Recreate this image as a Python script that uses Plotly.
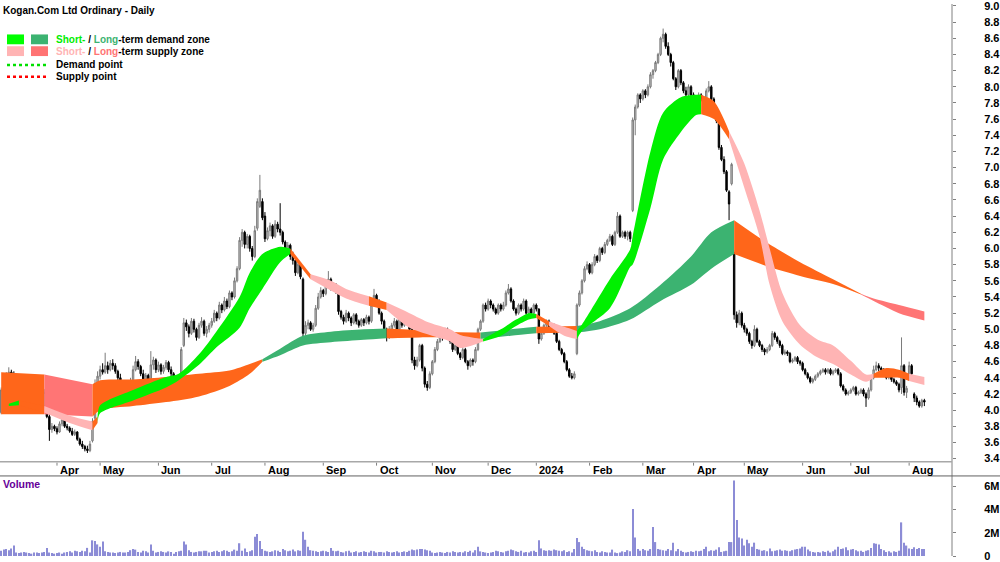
import plotly.graph_objects as go

# ---------------- data ----------------
# trading-day index 0 = 2 Mar 2023 ... 364 = 9 Aug 2024
opens = [
 3.97,4.25,4.37,4.42,4.47,4.44,4.40,4.30,4.22,4.27, 4.13,4.25,4.10,4.05,4.18,4.08,4.02,4.05,4.15,3.92,
 3.76,3.80,3.77,3.73,3.83,3.88,3.80,3.78,3.74,3.70, 3.73,3.64,3.58,3.55,3.52,3.50,3.62,3.90,4.33,4.42,
 4.50,4.47,4.55,4.50,4.58,4.55,4.48,4.40,4.32,4.27, 4.22,4.26,4.36,4.50,4.60,4.54,4.45,4.38,4.43,4.36,
 4.56,4.62,4.50,4.56,4.48,4.53,4.59,4.50,4.45,4.38, 4.30,4.38,4.80,5.08,5.03,4.95,5.10,5.00,4.90,5.05,
 5.10,4.95,5.00,5.05,5.10,5.20,5.14,5.30,5.24,5.35, 5.28,5.45,5.40,5.60,5.75,6.10,6.20,6.05,6.15,6.00,
 5.90,6.25,6.52,6.58,6.40,6.12,6.22,6.28,6.15,6.30, 6.24,6.20,6.08,5.95,6.04,5.90,5.85,5.70,5.80,5.62,
 4.95,5.05,5.08,5.00,5.05,5.26,5.40,5.48,5.44,5.55, 5.62,5.52,5.55,5.50,5.22,5.15,5.10,5.20,5.14,5.08,
 5.18,5.10,5.05,5.12,5.08,5.15,5.10,5.30,5.42,5.35, 5.20,5.10,5.00,4.90,5.00,5.05,5.10,5.00,5.15,5.05,
 5.10,5.16,5.00,4.62,4.55,4.62,4.80,4.52,4.32,4.28, 4.45,4.60,4.75,4.85,4.95,4.90,5.00,4.92,4.85,4.75,
 4.80,4.70,4.65,4.75,4.60,4.55,4.62,4.60,4.75,5.00, 5.10,5.30,5.25,5.35,5.30,5.25,5.20,5.30,5.25,5.30,
 5.45,5.50,5.35,5.25,5.20,5.30,5.25,5.35,5.20,5.25, 5.20,5.30,5.25,4.88,4.95,5.05,5.10,5.00,5.05,4.95,
 4.85,4.75,4.70,4.60,4.50,4.42,4.40,4.70,5.30,5.45, 5.60,5.75,5.80,5.70,5.80,5.90,5.85,6.00,5.95,6.05,
 6.10,6.15,6.05,6.20,6.40,6.15,6.20,6.15,6.20,6.47, 7.59,7.75,7.90,7.85,7.95,7.90,8.00,8.15,8.20,8.30,
 8.40,8.60,8.65,8.50,8.40,8.30,8.10,8.00,8.20,8.05, 7.95,7.90,8.00,7.90,7.85,7.80,7.90,7.85,7.75,7.95,
 8.00,7.85,7.70,7.55,7.25,7.10,6.95,6.70,6.80,5.95, 5.18,5.08,5.20,5.05,5.00,4.95,4.85,4.80,5.00,4.85,
 4.80,4.75,4.72,4.75,4.80,4.95,4.90,4.85,4.80,4.70, 4.72,4.70,4.60,4.62,4.65,4.60,4.58,4.50,4.45,4.40,
 4.35,4.38,4.42,4.45,4.48,4.50,4.47,4.50,4.45,4.48, 4.50,4.45,4.30,4.25,4.20,4.22,4.25,4.28,4.20,4.22,
 4.25,4.20,4.15,4.25,4.40,4.50,4.55,4.52,4.50,4.45, 4.40,4.42,4.38,4.35,4.32,4.28,4.55,4.22,4.38,4.55,
 4.20,4.15,4.10,4.05,4.12]
highs = [
 4.28,4.40,4.47,4.53,4.50,4.48,4.42,4.34,4.30,4.30, 4.28,4.28,4.14,4.22,4.20,4.12,4.16,4.26,4.18,3.95,
 3.84,3.82,3.80,3.86,3.92,3.90,3.83,3.80,3.78,3.76, 3.74,3.66,3.62,3.57,3.56,3.62,3.90,4.38,4.48,4.55,
 4.58,4.71,4.60,4.62,4.63,4.58,4.50,4.45,4.36,4.32, 4.30,4.40,4.55,4.67,4.63,4.56,4.50,4.46,4.45,4.73,
 4.66,4.64,4.60,4.58,4.56,4.62,4.61,4.54,4.47,4.42, 4.40,4.78,5.14,5.12,5.06,5.14,5.13,5.02,5.08,5.15,
 5.12,5.04,5.08,5.14,5.24,5.22,5.34,5.32,5.40,5.38, 5.48,5.47,5.64,5.78,6.14,6.24,6.22,6.18,6.17,6.03,
 6.28,6.62,6.91,6.62,6.45,6.26,6.32,6.30,6.35,6.33, 6.56,6.22,6.10,6.08,6.06,5.96,5.88,5.84,5.82,5.64,
 5.10,5.12,5.10,5.08,5.30,5.45,5.52,5.50,5.58,5.72, 5.64,5.58,5.57,5.52,5.24,5.18,5.24,5.22,5.16,5.20,
 5.20,5.12,5.14,5.14,5.18,5.17,5.32,5.50,5.44,5.37, 5.22,5.12,5.02,5.04,5.08,5.14,5.12,5.18,5.22,5.14,
 5.20,5.18,5.02,4.66,4.66,4.82,4.82,4.54,4.36,4.48, 4.62,4.78,4.88,4.97,4.98,5.02,5.02,4.94,4.87,4.84,
 4.82,4.72,4.78,4.77,4.62,4.64,4.64,4.78,5.02,5.12, 5.32,5.33,5.38,5.37,5.32,5.27,5.32,5.32,5.34,5.48,
 5.56,5.52,5.37,5.27,5.32,5.32,5.38,5.37,5.28,5.27, 5.32,5.32,5.26,4.98,5.07,5.12,5.12,5.08,5.07,4.97,
 4.87,4.77,4.72,4.62,4.52,4.46,4.48,5.32,5.48,5.62, 5.78,5.84,5.82,5.83,5.93,5.92,6.02,6.02,6.08,6.12,
 6.18,6.17,6.22,6.45,6.42,6.22,6.22,6.22,6.22,7.62, 7.78,7.92,7.92,7.97,7.97,8.03,8.18,8.22,8.32,8.42,
 8.62,8.72,8.67,8.55,8.42,8.32,8.12,8.22,8.22,8.07, 8.00,8.03,8.02,7.93,7.87,7.93,7.92,7.87,7.98,8.07,
 8.02,7.87,7.72,7.58,7.28,7.14,6.97,6.72,7.06,5.96, 5.22,5.24,5.22,5.08,5.02,4.97,4.87,5.05,5.02,4.87,
 4.82,4.77,4.78,4.82,4.98,4.97,4.92,4.87,4.82,4.75, 4.74,4.72,4.64,4.67,4.67,4.62,4.60,4.52,4.47,4.42,
 4.40,4.44,4.47,4.50,4.52,4.52,4.52,4.52,4.50,4.52, 4.52,4.47,4.32,4.27,4.24,4.27,4.30,4.30,4.24,4.27,
 4.27,4.22,4.28,4.42,4.55,4.60,4.58,4.54,4.52,4.47, 4.45,4.44,4.40,4.37,4.34,4.90,4.57,4.30,4.60,4.57,
 4.22,4.18,4.12,4.14,4.14]
lows = [
 3.95,4.22,4.33,4.38,4.40,4.36,4.28,4.18,4.15,4.10, 4.10,4.08,4.02,4.03,4.06,3.98,4.00,4.03,3.90,3.62,
 3.72,3.74,3.70,3.72,3.80,3.78,3.75,3.72,3.68,3.68, 3.62,3.56,3.52,3.49,3.47,3.48,3.60,3.88,4.30,4.38,
 4.44,4.45,4.45,4.48,4.50,4.45,4.36,4.30,4.22,4.18, 4.16,4.24,4.34,4.48,4.50,4.42,4.34,4.35,4.32,4.34,
 4.50,4.46,4.47,4.44,4.45,4.50,4.47,4.40,4.34,4.25, 4.27,4.36,4.78,4.98,4.90,4.93,4.96,4.86,4.88,5.02,
 4.92,4.90,4.96,5.02,5.08,5.10,5.12,5.20,5.22,5.25, 5.26,5.36,5.38,5.58,5.73,6.02,6.00,6.00,5.96,5.85,
 5.88,6.22,6.50,6.35,6.08,6.10,6.15,6.12,6.13,6.20, 6.16,6.05,5.90,5.92,5.86,5.80,5.66,5.68,5.62,4.87,
 4.92,5.00,4.98,4.97,5.03,5.24,5.38,5.40,5.42,5.52, 5.48,5.48,5.44,5.18,5.12,5.06,5.08,5.10,5.04,5.06,
 5.06,5.02,5.03,5.04,5.06,5.06,5.08,5.28,5.30,5.18, 5.06,4.96,4.85,4.88,4.96,5.02,4.96,4.98,5.02,5.03,
 5.08,4.98,4.58,4.50,4.53,4.60,4.48,4.28,4.24,4.26, 4.43,4.58,4.73,4.83,4.86,4.88,4.88,4.82,4.72,4.73,
 4.68,4.62,4.63,4.58,4.50,4.53,4.55,4.58,4.73,4.98, 5.08,5.22,5.23,5.26,5.22,5.18,5.18,5.22,5.23,5.28,
 5.43,5.33,5.23,5.17,5.18,5.22,5.23,5.18,5.18,5.16, 5.18,5.22,4.82,4.86,4.93,5.03,4.98,4.98,4.93,4.83,
 4.73,4.68,4.58,4.48,4.40,4.38,4.38,4.68,5.28,5.43, 5.58,5.73,5.68,5.68,5.78,5.82,5.83,5.92,5.93,6.03,
 6.08,6.03,6.03,6.18,6.13,6.13,6.12,6.10,6.08,6.45, 7.40,7.73,7.80,7.83,7.86,7.88,7.98,8.10,8.18,8.28,
 8.38,8.55,8.47,8.38,8.25,8.08,7.96,7.98,8.02,7.92, 7.86,7.88,7.88,7.80,7.72,7.78,7.82,7.66,7.73,7.93,
 7.83,7.66,7.55,7.22,7.08,6.92,6.70,6.35,6.78,5.12, 5.02,5.05,5.02,4.96,4.92,4.82,4.76,4.78,4.83,4.78,
 4.72,4.68,4.70,4.73,4.78,4.87,4.82,4.77,4.68,4.68, 4.67,4.58,4.58,4.60,4.57,4.55,4.48,4.43,4.38,4.33,
 4.33,4.36,4.40,4.43,4.46,4.44,4.45,4.43,4.43,4.46, 4.43,4.28,4.23,4.18,4.18,4.20,4.23,4.18,4.18,4.20,
 4.17,4.04,4.13,4.23,4.38,4.48,4.48,4.46,4.42,4.38, 4.38,4.35,4.33,4.30,4.22,4.20,4.18,4.15,4.36,4.42,
 4.10,4.06,4.03,4.03,4.05]
closes = [
 4.25,4.37,4.42,4.47,4.44,4.40,4.30,4.22,4.27,4.13, 4.25,4.10,4.05,4.18,4.08,4.02,4.12,4.22,3.92,3.76,
 3.80,3.77,3.73,3.83,3.88,3.80,3.78,3.74,3.70,3.73, 3.64,3.58,3.55,3.52,3.50,3.58,3.86,4.33,4.42,4.50,
 4.47,4.55,4.50,4.58,4.55,4.48,4.40,4.32,4.27,4.22, 4.26,4.36,4.50,4.60,4.54,4.45,4.38,4.43,4.36,4.56,
 4.62,4.50,4.56,4.48,4.53,4.59,4.50,4.45,4.38,4.30, 4.36,4.75,5.08,5.03,4.95,5.10,5.00,4.90,5.05,5.10,
 4.95,5.00,5.05,5.10,5.20,5.14,5.30,5.24,5.35,5.28, 5.45,5.40,5.60,5.75,6.10,6.20,6.05,6.15,6.00,5.90,
 6.22,6.58,6.72,6.38,6.12,6.22,6.28,6.15,6.30,6.24, 6.20,6.08,5.95,6.04,5.90,5.85,5.70,5.80,5.65,4.95,
 5.05,5.08,5.00,5.05,5.26,5.40,5.48,5.44,5.55,5.62, 5.52,5.55,5.47,5.22,5.15,5.10,5.20,5.14,5.08,5.18,
 5.10,5.05,5.12,5.08,5.15,5.10,5.30,5.42,5.35,5.20, 5.10,5.00,4.90,5.00,5.05,5.10,5.00,5.15,5.05,5.10,
 5.16,5.00,4.62,4.55,4.62,4.80,4.52,4.32,4.28,4.45, 4.60,4.75,4.85,4.95,4.90,5.00,4.92,4.85,4.75,4.80,
 4.70,4.65,4.75,4.60,4.55,4.62,4.60,4.75,5.00,5.10, 5.30,5.25,5.35,5.30,5.25,5.20,5.30,5.25,5.30,5.45,
 5.50,5.35,5.25,5.20,5.30,5.25,5.35,5.20,5.25,5.20, 5.30,5.25,4.88,4.95,5.05,5.10,5.00,5.05,4.95,4.85,
 4.75,4.70,4.60,4.50,4.42,4.40,4.45,5.30,5.45,5.60, 5.75,5.80,5.70,5.80,5.90,5.85,6.00,5.95,6.05,6.10,
 6.15,6.05,6.20,6.40,6.15,6.20,6.15,6.20,6.12,7.59, 7.75,7.90,7.85,7.95,7.90,8.00,8.15,8.20,8.30,8.40,
 8.60,8.65,8.50,8.40,8.30,8.10,8.00,8.20,8.05,7.95, 7.90,8.00,7.90,7.85,7.80,7.90,7.85,7.75,7.95,8.00,
 7.85,7.70,7.58,7.25,7.10,6.95,6.72,6.55,7.04,5.18, 5.08,5.20,5.05,5.00,4.95,4.85,4.80,5.00,4.85,4.80,
 4.75,4.72,4.75,4.80,4.95,4.90,4.85,4.80,4.70,4.72, 4.70,4.60,4.62,4.65,4.60,4.58,4.50,4.45,4.40,4.35,
 4.38,4.42,4.45,4.48,4.50,4.47,4.50,4.45,4.48,4.50, 4.45,4.30,4.25,4.20,4.22,4.25,4.28,4.20,4.22,4.25,
 4.20,4.15,4.25,4.40,4.50,4.55,4.52,4.50,4.45,4.40, 4.42,4.38,4.35,4.32,4.25,4.55,4.22,4.27,4.55,4.45,
 4.15,4.10,4.05,4.12,4.10]
volume_m = [
 0.45,0.55,0.6,0.5,0.65,0.9,0.3,0.25,0.3,0.35, 0.3,0.25,0.2,0.3,0.3,0.25,0.3,0.35,0.7,0.3,
 0.25,0.2,0.25,0.3,0.2,0.3,0.35,0.4,0.3,0.45, 0.4,0.35,0.45,0.4,0.7,0.3,1.35,1.3,1.0,0.8,
 1.25,0.4,0.35,0.3,0.3,0.25,0.3,0.35,0.3,0.3, 0.35,0.5,0.6,0.55,0.35,0.3,0.45,0.4,0.3,1.0,
 0.45,0.3,0.35,0.4,0.35,0.3,0.4,0.35,0.2,0.35, 0.4,0.45,1.25,1.0,0.5,0.35,0.3,0.35,0.4,0.4,
 0.45,0.45,0.3,0.35,0.4,0.45,0.35,0.4,0.5,0.45, 0.35,0.4,0.55,0.45,1.1,0.45,0.65,0.35,0.4,0.5,
 1.65,1.9,1.3,0.6,0.45,0.4,0.35,0.4,0.5,0.45, 0.35,0.6,0.5,0.4,0.45,0.55,0.4,0.5,0.45,2.1,
 1.4,0.8,0.5,0.45,0.4,0.35,0.4,0.45,0.4,0.35, 0.7,0.45,0.4,0.45,0.35,0.3,0.4,0.45,0.3,0.35,
 0.4,0.3,0.35,0.4,0.35,0.3,0.45,0.4,0.3,0.35, 0.35,0.3,0.4,0.35,0.3,0.35,0.4,0.3,0.35,0.4,
 0.35,0.45,0.55,0.5,0.55,0.6,0.6,0.55,0.5,0.45, 0.3,0.25,0.3,0.35,0.3,0.25,0.35,0.3,0.4,0.35,
 0.3,0.35,0.3,0.4,0.35,0.45,0.3,0.5,0.8,0.4, 0.35,0.3,0.25,0.3,0.35,0.45,0.4,0.35,0.3,0.4,
 0.45,0.55,0.5,0.4,0.35,0.45,0.3,0.35,0.3,0.4, 0.45,0.35,1.35,0.65,0.5,0.45,0.5,0.45,0.55,0.5,
 0.45,0.4,0.5,0.35,0.4,0.3,0.6,1.55,1.2,0.8, 0.6,0.5,0.45,0.4,0.5,0.35,0.3,0.4,0.35,0.3,
 0.3,0.55,0.3,0.25,0.3,0.4,0.35,0.5,0.4,4.05, 1.6,0.6,0.45,0.6,0.5,0.45,0.6,2.5,1.2,0.6,
 0.55,0.5,0.45,0.6,0.5,1.15,0.4,0.6,0.45,0.35, 0.3,0.35,0.4,0.35,0.45,0.4,0.45,0.6,0.8,0.4,
 0.5,0.45,0.55,0.75,0.35,0.4,0.45,1.2,1.2,6.5, 3.1,1.6,1.5,0.9,1.4,1.1,0.8,1.15,0.6,0.55,
 0.45,0.5,0.4,0.65,0.4,0.45,0.5,0.55,0.45,0.5, 0.45,0.4,0.5,0.55,0.6,0.65,0.8,0.8,0.55,0.4,
 0.35,0.3,0.35,0.3,0.4,0.35,0.45,0.3,0.4,0.55, 0.8,0.6,0.65,0.75,0.5,0.55,0.6,0.5,0.4,0.45,
 0.35,0.45,0.5,0.7,1.1,1.05,1.0,0.6,0.5,0.35, 0.4,0.3,0.4,0.35,0.45,2.9,1.15,0.9,0.65,0.6,
 0.75,0.6,0.7,0.6,0.6]

# long-term zone (two slow averages) read at a few trading-day indices
lt_idx = [0,17,36,39,52,65,78,90,98,103,110,119,130,143,152,165,175,189,201,211,
          227,236,248,260,272,280,289,302,315,328,339,344,354,364]
lt_hi = [4.47,4.44,4.32,4.37,4.38,4.41,4.45,4.49,4.57,4.63,4.76,4.92,4.97,5.00,5.01,4.99,4.97,4.96,5.00,5.03,
         5.04,5.10,5.26,5.55,5.90,6.20,6.35,6.07,5.83,5.62,5.44,5.38,5.30,5.22]
lt_lo = [3.95,3.95,3.92,4.00,4.05,4.10,4.17,4.30,4.45,4.60,4.68,4.80,4.84,4.87,4.89,4.90,4.90,4.88,4.92,4.95,
         4.96,5.00,5.12,5.35,5.55,5.75,5.93,5.78,5.66,5.56,5.43,5.35,5.20,5.11]
lt_state = "O S O O O O O O O G G G G G O O O G G O G G G G G G O O O O S S S S".split()

# short-term zone (two fast averages)
st_idx = [3,7,17,27,36,38,39,52,65,70,78,85,94,98,103,110,114,122,130,136,
          145,152,161,169,177,181,190,197,203,208,211,216,222,227,229,240,248,249,256,261,
          268,274,276,281,287,293,299,303,308,315,322,328,335,341,344,349,354,358,364]
st_hi = [4.08,4.12,4.05,3.93,3.86,3.92,4.06,4.25,4.41,4.45,4.69,4.98,5.40,5.70,5.93,6.02,6.00,5.68,5.60,5.50,
         5.41,5.33,5.20,5.08,5.00,4.93,4.88,5.00,5.12,5.20,5.19,5.10,5.03,4.98,5.06,5.62,5.99,6.15,7.20,7.68,
         7.87,7.90,7.90,7.82,7.45,7.05,6.47,6.00,5.45,5.05,4.87,4.80,4.61,4.44,4.45,4.52,4.50,4.45,4.41]
st_lo = [4.05,4.06,3.97,3.84,3.75,3.84,3.96,4.12,4.28,4.37,4.56,4.78,5.02,5.26,5.50,5.83,5.93,5.62,5.48,5.38,
         5.29,5.24,5.02,4.93,4.85,4.77,4.85,4.92,5.04,5.12,5.14,5.04,4.92,4.88,4.98,5.26,5.77,5.80,6.50,7.10,
         7.44,7.65,7.66,7.60,7.35,6.75,6.15,5.55,5.10,4.81,4.65,4.57,4.44,4.35,4.40,4.40,4.40,4.36,4.31]
st_state = ("G O P P O G G G G G G G G G G G O P P P O P P P P P G G G G "
            "O P P G G G G G G G G G O O P P P P P P P P P P O O O P P").split()

month_idx = [22,39,62,83,104,127,148,170,192,211,232,253,273,293,316,335,358]
month_lbl = ["Apr","May","Jun","Jul","Aug","Sep","Oct","Nov","Dec","2024",
             "Feb","Mar","Apr","May","Jun","Jul","Aug"]
price_ticks = [round(3.4 + 0.2 * k, 1) for k in range(29)]
vol_ticks = [0, 2, 4, 6]
vol_labels = ["0", "2M", "4M", "6M"]

# ---------------- figure ----------------
W, H = 1000, 562
def px_y(p):
    return 1 - p / H

FONT = "Liberation Sans, Arial, sans-serif"
C_SHORT = {"G": "#00f000", "P": "#ffb4b4", "O": "#ff661a"}
C_LONG = {"G": "#3cb371", "S": "#ff7575", "O": "#ff661a"}

fig = go.Figure()

def add_band(idx, hi, lo, st, cmap):
    n = len(idx)
    a = 0
    for k in range(1, n):
        if k == n - 1 or st[k] != st[a]:
            c = cmap[st[a]]
            fig.add_trace(go.Scatter(x=idx[a:k + 1], y=lo[a:k + 1], mode="lines",
                                     line=dict(width=0, shape="spline", smoothing=0.8, color=c),
                                     hoverinfo="skip", showlegend=False, xaxis="x", yaxis="y"))
            fig.add_trace(go.Scatter(x=idx[a:k + 1], y=hi[a:k + 1], mode="lines", fill="tonexty",
                                     fillcolor=c,
                                     line=dict(width=0, shape="spline", smoothing=0.8, color=c),
                                     hoverinfo="skip", showlegend=False, xaxis="x", yaxis="y"))
            a = k

add_band(lt_idx, lt_hi, lt_lo, lt_state, C_LONG)
add_band(st_idx, st_hi, st_lo, st_state, C_SHORT)

days = list(range(len(closes)))
fig.add_trace(go.Candlestick(
    x=days, open=opens, high=highs, low=lows, close=closes,
    increasing=dict(line=dict(color="#7a7a7a", width=1), fillcolor="#c4c4c4"),
    decreasing=dict(line=dict(color="#000000", width=1), fillcolor="#000000"),
    whiskerwidth=0, showlegend=False, xaxis="x", yaxis="y", hoverinfo="skip"))

fig.add_trace(go.Bar(x=days, y=volume_m, marker=dict(color="#8c8cd6", line=dict(width=0)),
                     width=0.5, showlegend=False, xaxis="x2", yaxis="y2", hoverinfo="skip"))

XR = [-0.47, 374.9]
XD = [0, 0.952]
tickfont = dict(family=FONT, size=11, color="black", weight="bold")
fig.update_layout(
    width=W, height=H, margin=dict(l=0, r=0, t=0, b=0),
    paper_bgcolor="white", plot_bgcolor="white", showlegend=False,
    font=dict(family=FONT, size=11, color="black"), boxgap=0.2,
    xaxis=dict(domain=XD, range=XR, showticklabels=False, showgrid=False, zeroline=False,
               ticks="", rangeslider=dict(visible=False), anchor="y"),
    xaxis2=dict(domain=XD, range=XR, matches="x", showticklabels=False, showgrid=False,
                zeroline=False, ticks="", anchor="y2"),
    yaxis=dict(domain=[1 - 466 / H, 1], range=[3.362, 9.024], side="right", anchor="x",
               tickvals=price_ticks, ticktext=[f"{v:.1f}" for v in price_ticks],
               ticks="outside", ticklen=3, tickcolor="#808080", showgrid=False,
               zeroline=False, showline=False, tickfont=tickfont, ticklabelstandoff=26,
               ticklabeloverflow="allow"),
    yaxis2=dict(domain=[0, 81 / H], range=[0, 6.86], side="right", anchor="x2",
                tickvals=vol_ticks, ticktext=vol_labels, ticks="outside", ticklen=3,
                tickcolor="#808080", showgrid=False, zeroline=False, showline=False,
                tickfont=tickfont, ticklabelstandoff=26, ticklabeloverflow="allow"),
)

shapes = [
    dict(type="line", xref="paper", yref="paper", x0=0.952, x1=0.952, y0=0, y1=1,
         line=dict(color="#808080", width=1)),
    dict(type="line", xref="paper", yref="paper", x0=0, x1=0.952, y0=px_y(466), y1=px_y(466),
         line=dict(color="#a8a8a8", width=1.5)),
    dict(type="line", xref="paper", yref="paper", x0=0, x1=1, y0=px_y(480.5), y1=px_y(480.5),
         line=dict(color="#606060", width=1)),
]
for m in month_idx:
    shapes.append(dict(type="line", xref="x", yref="paper", x0=m, x1=m,
                       y0=px_y(467), y1=px_y(470), line=dict(color="#808080", width=1)))

def rect(x0, x1, y0, y1, c):
    return dict(type="rect", xref="paper", yref="paper", x0=x0 / W, x1=x1 / W,
                y0=px_y(y1), y1=px_y(y0), fillcolor=c, line=dict(width=0))
shapes += [rect(7, 24, 31, 41, "#00ff00"), rect(31, 48, 31, 41, "#3cb371"),
           rect(7, 24, 43, 53, "#ffb4b4"), rect(31, 48, 43, 53, "#ff7373")]
shapes.append(dict(type="line", xref="paper", yref="paper", x0=7 / W, x1=48 / W,
                   y0=px_y(62), y1=px_y(62), line=dict(color="#00e000", width=2.5, dash="dot")))
shapes.append(dict(type="line", xref="paper", yref="paper", x0=7 / W, x1=48 / W,
                   y0=px_y(74), y1=px_y(74), line=dict(color="#ff0000", width=2.5, dash="dot")))
fig.update_layout(shapes=shapes)

ann = []
def text(x, y, s, size=10, color="black"):
    ann.append(dict(xref="paper", yref="paper", x=x / W, y=px_y(y), text=s, showarrow=False,
                    xanchor="left", yanchor="middle", font=dict(family=FONT, size=size, color=color)))

text(1, 7, "<b>Kogan.Com Ltd Ordinary - Daily</b>", size=10)
text(54, 36, "<b><span style='color:#00ee00'>Short-</span> / "
             "<span style='color:#3cb371'>Long</span>-term demand zone</b>")
text(54, 48, "<b><span style='color:#ffb4b4'>Short-</span> / "
             "<span style='color:#ff7373'>Long</span>-term supply zone</b>")
text(54, 62, "<b>Demand point</b>")
text(54, 74, "<b>Supply point</b>")
text(1, 489, "<b>Volume</b>", size=10.5, color="#660099")

for m, lab in zip(month_idx, month_lbl):
    ann.append(dict(xref="x", yref="paper", x=m, y=px_y(474), text=f"<b>{lab}</b>",
                    showarrow=False, xanchor="left", yanchor="middle", xshift=1,
                    font=dict(family=FONT, size=11, color="black")))
fig.update_layout(annotations=ann)

fig.write_html("out.html")
